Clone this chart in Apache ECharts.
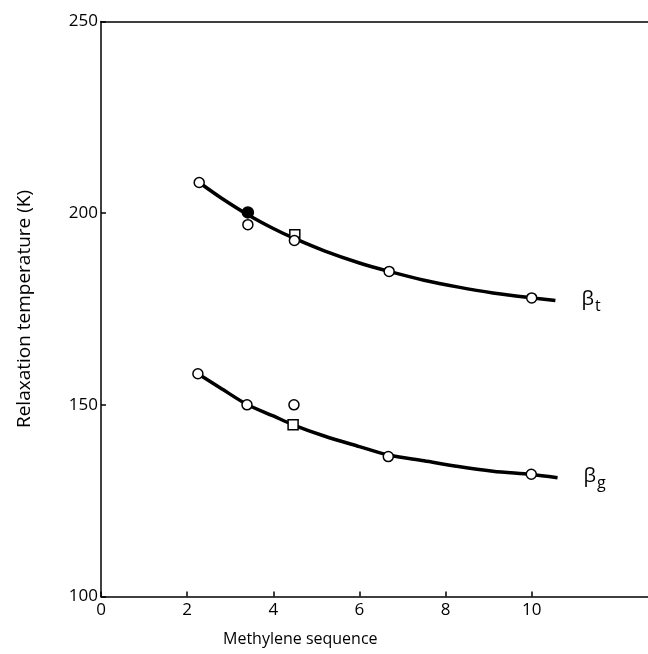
<!DOCTYPE html>
<html>
<head>
<meta charset="utf-8">
<script src="https://cdn.jsdelivr.net/npm/echarts@6/dist/echarts.min.js"></script>
<style>
  html, body { margin: 0; padding: 0; background: #fff; }
  #chart { width: 648px; height: 654px; }
</style>
</head>
<body>
<div id="chart"></div>
<script>
// Relaxation temperatures of the beta_t and beta_g processes vs methylene sequence length
const xTicks = [0, 2, 4, 6, 8, 10];
const yTicks = [100, 150, 200, 250];

// beta_t process
const betaTOpenX = [2.28, 3.41, 4.49, 6.69, 10.0];
const betaTOpenY = [208.0, 197.0, 192.9, 184.8, 177.9];
const betaTFilledX = [3.41];
const betaTFilledY = [200.2];
const betaTSquareX = [4.5];
const betaTSquareY = [194.4];
const betaTCurveX = [2.28, 2.8, 3.41, 4.0, 4.49, 5.2, 6.0, 6.69, 7.5, 8.3, 9.1, 10.0, 10.55];
const betaTCurveY = [208.0, 203.9, 199.6, 196.0, 193.4, 190.1, 187.0, 184.8, 182.5, 180.7, 179.2, 177.9, 177.2];

// beta_g process
const betaGOpenX = [2.25, 3.39, 4.48, 6.67, 9.99];
const betaGOpenY = [158.1, 150.0, 150.0, 136.5, 131.9];
const betaGSquareX = [4.46];
const betaGSquareY = [144.8];
const betaGCurveX = [2.25, 2.8, 3.39, 4.0, 4.46, 5.2, 6.0, 6.67, 7.5, 8.3, 9.1, 9.99, 10.6];
const betaGCurveY = [158.1, 154.2, 150.1, 147.1, 144.8, 141.8, 139.1, 136.9, 135.4, 133.9, 132.7, 131.8, 131.0];

const FONT = 'Open Sans';
const zip = (xs, ys) => xs.map((x, i) => [x, ys[i]]);

const curveSeries = (name, xs, ys, sub) => ({
  name, type: 'line', data: zip(xs, ys),
  smooth: 0.3, symbol: 'none', z: 2,
  lineStyle: { color: '#000', width: 3.5 },
  endLabel: {
    show: true, distance: 26, color: '#000', fontFamily: FONT,
    formatter: '{b|\u03b2}{s|' + sub + '}',
    rich: {
      b: { fontSize: 20, fontFamily: FONT, color: '#000', verticalAlign: 'top', lineHeight: 22 },
      s: { fontSize: 16, fontFamily: FONT, color: '#000', padding: [12, 0, 0, 1], lineHeight: 22 }
    }
  }
});

const markerSeries = (xs, ys, symbol, fill, size, z) => ({
  type: 'scatter', data: zip(xs, ys), symbol, symbolSize: size, z,
  itemStyle: { color: fill, borderColor: '#000', borderWidth: 1.5, opacity: 1 }
});

const chart = echarts.init(document.getElementById('chart'));
chart.setOption({
  animation: false,
  backgroundColor: '#fff',
  title: {
    text: 'Methylene sequence', left: 218, top: 626,
    textStyle: { fontFamily: FONT, fontSize: 16, fontWeight: 'normal', color: '#000' }
  },
  grid: { left: 101, right: 0, top: 21.5, bottom: 57.5 },
  xAxis: [{
    type: 'value', min: 0, max: 12.7, position: 'bottom',
    axisLine: { lineStyle: { color: '#000', width: 1.5 } },
    axisTick: { inside: true, length: 5, customValues: xTicks, lineStyle: { color: '#000', width: 1.5 } },
    axisLabel: { customValues: xTicks, margin: 5, color: '#000', fontFamily: FONT, fontSize: 17 },
    splitLine: { show: false }
  }, {
    type: 'value', min: 0, max: 12.7, position: 'top',
    axisLine: { show: true, lineStyle: { color: '#000', width: 1.5 } },
    axisTick: { show: false }, axisLabel: { show: false }, splitLine: { show: false }
  }],
  yAxis: {
    type: 'value', min: 100, max: 250, interval: 50,
    name: 'Relaxation temperature (K)', nameLocation: 'middle', nameGap: 67,
    nameTextStyle: { fontFamily: FONT, fontSize: 19, color: '#000' },
    axisLine: { show: true, lineStyle: { color: '#000', width: 1.5 } },
    axisTick: { inside: true, length: 5, customValues: yTicks, lineStyle: { color: '#000', width: 1.5 } },
    axisLabel: { customValues: yTicks, margin: 3, color: '#000', fontFamily: FONT, fontSize: 17 },
    splitLine: { show: false }
  },
  series: [
    curveSeries('betaT', betaTCurveX, betaTCurveY, 't'),
    curveSeries('betaG', betaGCurveX, betaGCurveY, 'g'),
    markerSeries(betaTSquareX, betaTSquareY, 'rect', '#fff', 10, 3),
    markerSeries(betaGSquareX, betaGSquareY, 'rect', '#fff', 10, 3),
    markerSeries(betaTOpenX, betaTOpenY, 'circle', '#fff', 10, 4),
    markerSeries(betaGOpenX, betaGOpenY, 'circle', '#fff', 10, 4),
    markerSeries(betaTFilledX, betaTFilledY, 'circle', '#000', 11, 5)
  ]
});
</script>
</body>
</html>
